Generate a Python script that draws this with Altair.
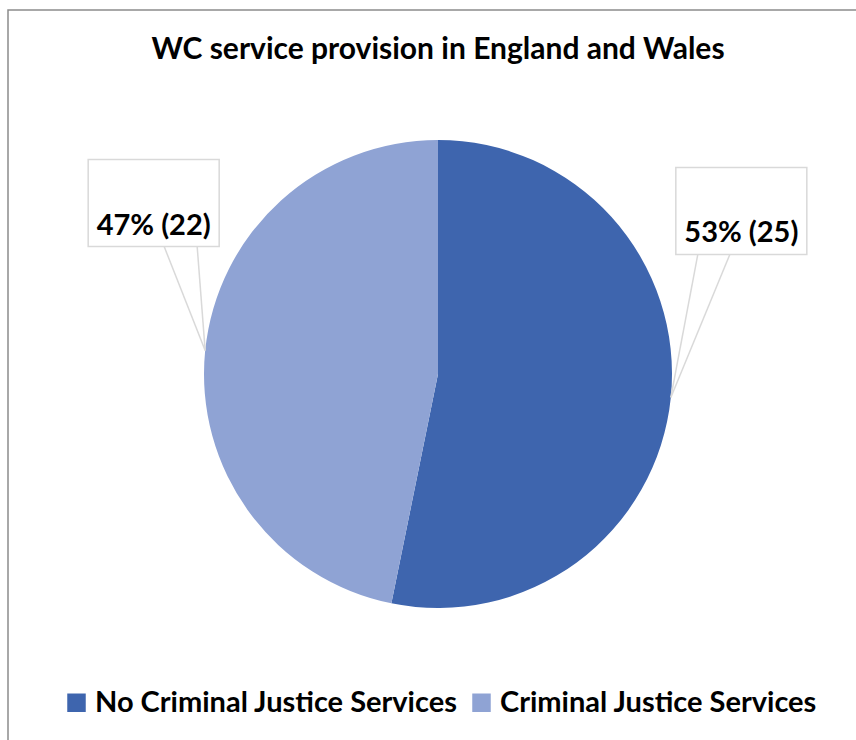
import math
import altair as alt
import pandas as pd

# ---- data ----
categories = ["No Criminal Justice Services", "Criminal Justice Services"]
counts = [25, 22]
colors = ["#3E65AE", "#8FA3D4"]
title_text = "WC service provision in England and Wales"

# ---- layout constants ----
W, H = 836, 548
PAD = {"left": 20, "top": 100, "right": 0, "bottom": 92}
R = 234
FONT = "Lato"

total = sum(counts)
df = pd.DataFrame({"category": categories, "count": counts, "idx": list(range(len(categories)))})

# label geometry derived from the slice angles (tip = arc midpoint)
rows, segs = [], []
start = 0.0
for cat, v in zip(categories, counts):
    frac = v / total
    mid = (start + frac / 2) * 2 * math.pi
    start += frac
    tx = W / 2 + R * math.sin(mid)
    ty = H / 2 - R * math.cos(mid)
    bw, bh = 131, 87
    if math.sin(mid) >= 0:
        left = tx + 5
        bottom = ty - 143
        a1, a2 = left + 22, left + 54
    else:
        left = tx + 14 - bw
        bottom = ty - 104
        a1, a2 = left + bw - 55, left + bw - 22
    top = bottom - bh
    label = f"{round(frac * 100)}% ({v})"
    rows.append({"label": label, "x": left, "x2": left + bw, "y": top, "y2": bottom,
                 "tx": left + bw / 2, "ty": bottom - 21})
    segs.append({"x": a1, "y": bottom, "x2": tx, "y2": ty})
    segs.append({"x": a2, "y": bottom, "x2": tx, "y2": ty})
lab = pd.DataFrame(rows)
seg = pd.DataFrame(segs)

xs = alt.Scale(domain=[0, W], range=[0, W])
ys = alt.Scale(domain=[0, H], range=[0, H])

pie = alt.Chart(df).mark_arc(outerRadius=R, strokeWidth=0).encode(
    theta=alt.Theta("count:Q", stack=True),
    order=alt.Order("idx:Q"),
    color=alt.Color(
        "category:N",
        scale=alt.Scale(domain=categories, range=colors),
        sort=categories,
        legend=alt.Legend(
            title=None, orient="none", direction="horizontal",
            legendX=42, legendY=588,
            symbolType="square", symbolSize=342, symbolStrokeWidth=0,
            labelFont=FONT, labelFontSize=29, labelFontWeight="bold", labelColor="black",
            labelOffset=4, columnPadding=9, labelLimit=1000, padding=0,
        ),
    ),
)

leaders = alt.Chart(seg).mark_rule(color="#d9d9d9", strokeWidth=1.5).encode(
    x=alt.X("x:Q", scale=xs, axis=None),
    y=alt.Y("y:Q", scale=ys, axis=None),
    x2="x2:Q",
    y2="y2:Q",
)

boxes = alt.Chart(lab).mark_rect(fill="white", stroke="#d9d9d9", strokeWidth=1.5).encode(
    x=alt.X("x:Q", scale=xs, axis=None),
    x2="x2:Q",
    y=alt.Y("y:Q", scale=ys, axis=None),
    y2="y2:Q",
)

texts = alt.Chart(lab).mark_text(font=FONT, fontSize=29, fontWeight="bold", color="black",
                                 baseline="middle", align="center").encode(
    x=alt.X("tx:Q", scale=xs, axis=None),
    y=alt.Y("ty:Q", scale=ys, axis=None),
    text="label:N",
)

one = pd.DataFrame({"t": [title_text]})

frame = alt.Chart(one).mark_rect(fill=None, stroke="#8c8c8c", strokeWidth=1.5).encode(
    x=alt.value(-12), y=alt.value(-90), x2=alt.value(W + 30), y2=alt.value(H + 110),
)

title = alt.Chart(one).mark_text(font=FONT, fontSize=30, fontWeight="bold", color="black",
                                 baseline="alphabetic", align="center").encode(
    x=alt.value(W / 2), y=alt.value(-41), text="t:N",
)

chart = alt.layer(frame, title, pie, leaders, boxes, texts).properties(
    width=W, height=H,
    padding=PAD,
    autosize=alt.AutoSizeParams(type="none"),
    background="white",
).configure_view(stroke=None)

chart.save("out.html", embed_options={"renderer": "svg", "actions": False})
